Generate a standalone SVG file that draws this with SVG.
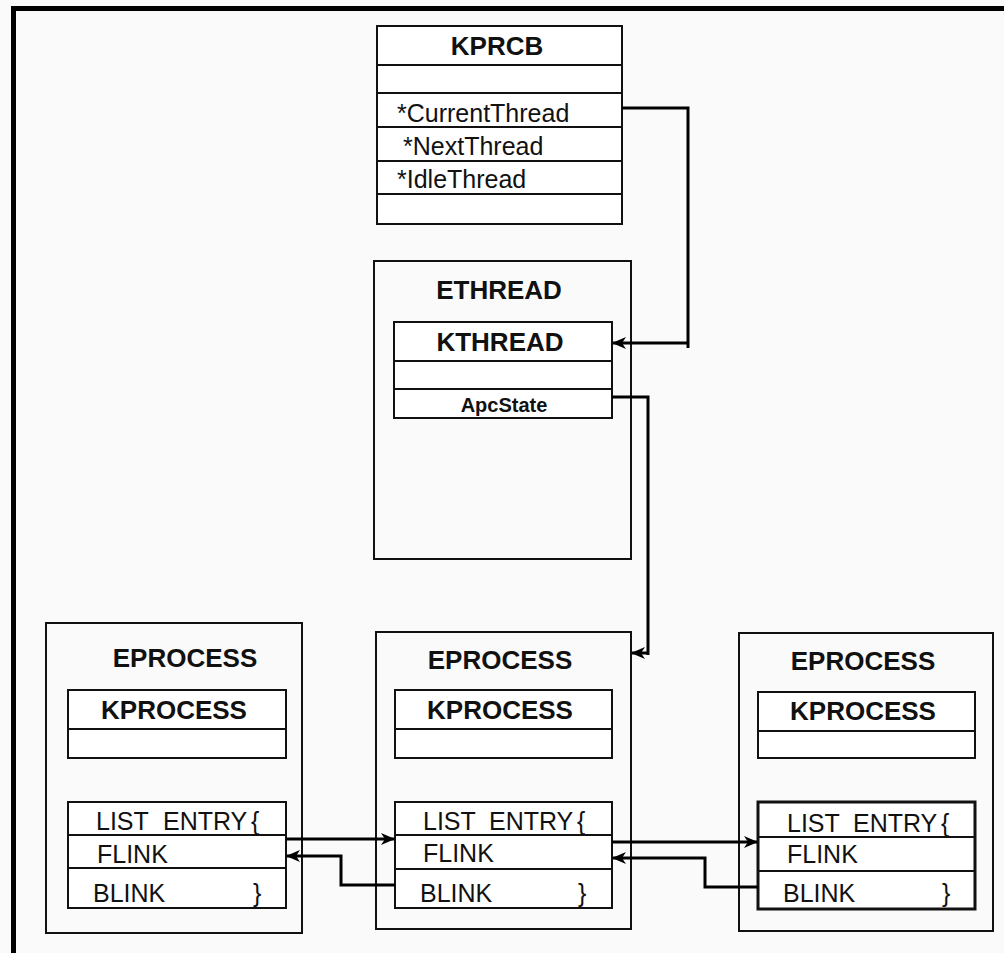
<svg xmlns="http://www.w3.org/2000/svg" width="1004" height="953" viewBox="0 0 1004 953">
<defs>
<style>
.bg{fill:#fafafa}
.frame{fill:none;stroke:#000;stroke-width:5}
.outer{fill:none;stroke:#111;stroke-width:2}
.inner{fill:#fff;stroke:#111;stroke-width:2}
.row{stroke:#111;stroke-width:2}
.conn{fill:none;stroke:#000;stroke-width:3}
.t{font-family:"Liberation Sans",Arial,sans-serif;fill:#111}
.b{font-weight:bold;font-size:26px;text-anchor:middle}
.r{font-size:25px}
.s{font-weight:bold;font-size:20px;text-anchor:middle}
</style>
<marker id="ah" viewBox="0 0 14 12" refX="13" refY="6" markerWidth="14" markerHeight="12" markerUnits="userSpaceOnUse" orient="auto">
<path d="M0,0 L14,6 L0,12 L4,6 z" fill="#000"/>
</marker>
</defs>
<rect class="bg" x="0" y="0" width="1004" height="953"/>
<path class="frame" d="M13.5,953 L13.5,8.5 L1004,8.5"/>

<g id="kprcb">
<rect class="inner" x="377" y="26" width="245" height="198"/>
<line class="row" x1="377" y1="65" x2="622" y2="65"/>
<line class="row" x1="377" y1="93" x2="622" y2="93"/>
<line class="row" x1="377" y1="127" x2="622" y2="127"/>
<line class="row" x1="377" y1="161" x2="622" y2="161"/>
<line class="row" x1="377" y1="194" x2="622" y2="194"/>
<text class="t b" x="497" y="55">KPRCB</text>
<text class="t r" x="397" y="122">*CurrentThread</text>
<text class="t r" x="403" y="155">*NextThread</text>
<text class="t r" x="397" y="188">*IdleThread</text>
</g>

<g id="ethread">
<rect class="outer" x="374" y="261" width="257" height="298"/>
<text class="t b" x="499" y="299">ETHREAD</text>
<rect class="inner" x="394" y="322" width="218" height="96"/>
<line class="row" x1="394" y1="361" x2="612" y2="361"/>
<line class="row" x1="394" y1="389" x2="612" y2="389"/>
<text class="t b" x="500" y="351">KTHREAD</text>
<text class="t s" x="504" y="412">ApcState</text>
</g>

<g id="eprocess-left">
<rect class="outer" x="46" y="623" width="256" height="310"/>
<text class="t b" x="185" y="667">EPROCESS</text>
<rect class="inner" x="68" y="690" width="218" height="68"/>
<line class="row" x1="68" y1="729" x2="286" y2="729"/>
<text class="t b" x="174" y="719">KPROCESS</text>
<rect class="inner" x="68" y="802" width="218" height="106"/>
<line class="row" x1="68" y1="835" x2="286" y2="835"/>
<line class="row" x1="68" y1="868" x2="286" y2="868"/>
<text class="t r" y="830"><tspan x="96">LIST</tspan> <tspan x="163">ENTRY</tspan> <tspan x="251">{</tspan></text>
<text class="t r" x="97" y="863">FLINK</text>
<text class="t r" y="902"><tspan x="93">BLINK</tspan> <tspan x="253">}</tspan></text>
</g>

<g id="eprocess-middle">
<rect class="outer" x="376" y="632" width="255" height="297"/>
<text class="t b" x="500" y="669">EPROCESS</text>
<rect class="inner" x="395" y="690" width="217" height="68"/>
<line class="row" x1="395" y1="729" x2="612" y2="729"/>
<text class="t b" x="500" y="719">KPROCESS</text>
<rect class="inner" x="395" y="802" width="217" height="106"/>
<line class="row" x1="395" y1="835" x2="612" y2="835"/>
<line class="row" x1="395" y1="869" x2="612" y2="869"/>
<text class="t r" y="830"><tspan x="423">LIST</tspan> <tspan x="489">ENTRY</tspan> <tspan x="577">{</tspan></text>
<text class="t r" x="423" y="862">FLINK</text>
<text class="t r" y="902"><tspan x="420">BLINK</tspan> <tspan x="578">}</tspan></text>
</g>

<g id="eprocess-right">
<rect class="outer" x="739" y="633" width="254" height="298"/>
<text class="t b" x="863" y="670">EPROCESS</text>
<rect class="inner" x="758" y="692" width="217" height="66"/>
<line class="row" x1="758" y1="731" x2="975" y2="731"/>
<text class="t b" x="863" y="720">KPROCESS</text>
<rect class="inner" x="758" y="802" width="217" height="107" style="stroke-width:3"/>
<line class="row" x1="758" y1="837" x2="975" y2="837"/>
<line class="row" x1="758" y1="871" x2="975" y2="871"/>
<text class="t r" y="832"><tspan x="787">LIST</tspan> <tspan x="853">ENTRY</tspan> <tspan x="941">{</tspan></text>
<text class="t r" x="787" y="863">FLINK</text>
<text class="t r" y="902"><tspan x="783">BLINK</tspan> <tspan x="942">}</tspan></text>
</g>

<g id="connectors">
<path class="conn" d="M622,108 L688,108 L688,348"/>
<path class="conn" d="M688,343 L613,343" marker-end="url(#ah)"/>
<path class="conn" d="M612,397 L648,397 L648,655"/>
<path class="conn" d="M648,653 L632,653" marker-end="url(#ah)"/>
<path class="conn" d="M286,839 L394,839" marker-end="url(#ah)"/>
<path class="conn" d="M395,885 L341,885 L341,856 L287,856" marker-end="url(#ah)"/>
<path class="conn" d="M612,842 L757,842" marker-end="url(#ah)"/>
<path class="conn" d="M758,887 L705,887 L705,858 L613,858" marker-end="url(#ah)"/>
</g>
</svg>
